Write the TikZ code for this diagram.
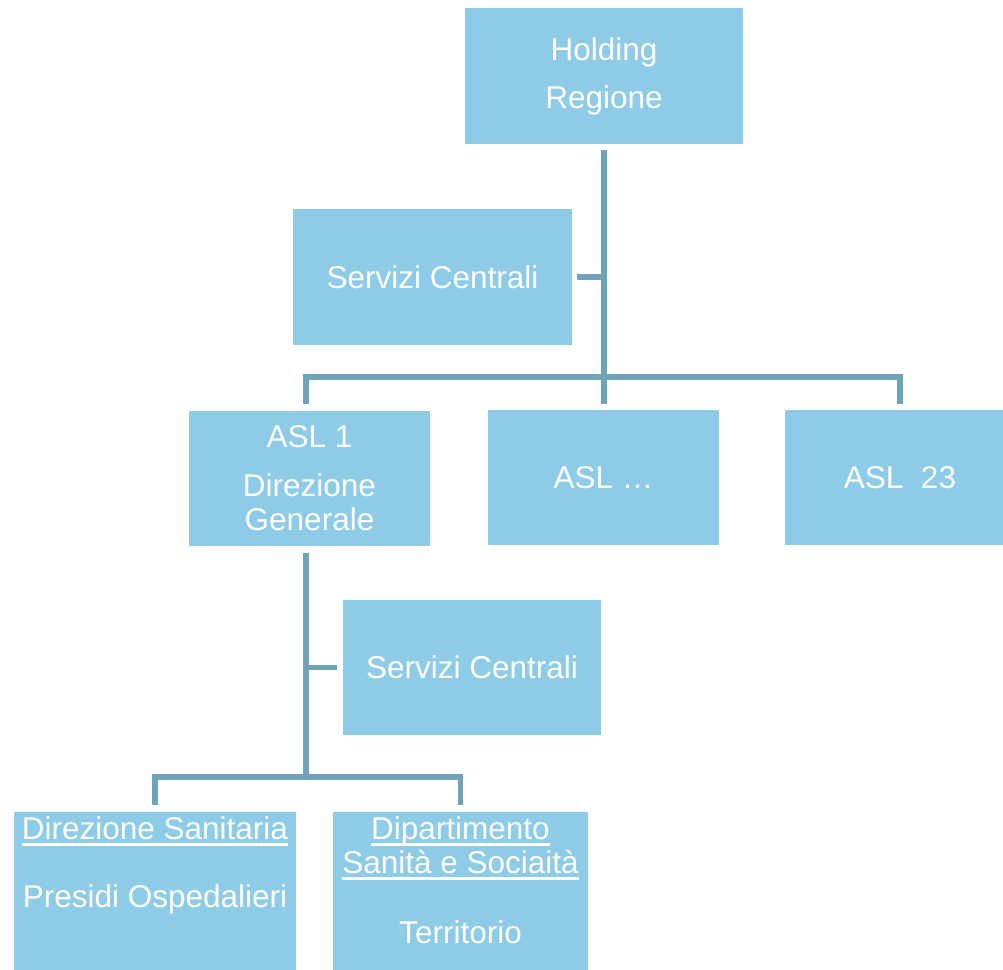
\documentclass[tikz,border=0pt]{standalone}
\usepackage{fontspec}
\setmainfont{Liberation Sans}
\usetikzlibrary{positioning}
\definecolor{boxblue}{RGB}{141,203,230}
\definecolor{linkblue}{RGB}{111,163,186}
\newcommand{\ulword}[1]{\setbox0\hbox{#1}\rlap{\rule[-6pt]{\wd0}{2.6pt}}\box0}
\tikzset{
 orgbox/.style={fill=boxblue,text=white,inner sep=0pt,align=center,
  font=\fontsize{31.5}{34}\selectfont},
 orgtext/.style={text=white,inner sep=0pt,align=center,
  font=\fontsize{31.5}{34}\selectfont},
 link/.style={draw=linkblue,line width=5.8pt}
}

\begin{document}
\begin{tikzpicture}[x=1pt,y=-1pt]
 \useasboundingbox (0,0) rectangle (1003,969);
 \node[orgbox,minimum width=278pt,minimum height=136pt] (holding) at (604,76) {Holding\\[14pt]Regione};
 \node[orgbox,minimum width=279pt,minimum height=136pt] (srv1) at (432.5,277) {Servizi Centrali};
 \node[orgbox,minimum width=241pt,minimum height=135pt] (asl1) at (309.5,478.5) {ASL 1\\[15pt]Direzione\\Generale};
 \node[orgbox,minimum width=231pt,minimum height=135pt] (asldots) at (603.5,477.5) {ASL \dots};
 \node[orgbox,minimum width=231pt,minimum height=135pt] (asl23) at (900,477.5) {ASL\ \ 23};
 \node[orgbox,minimum width=258pt,minimum height=135pt] (srv2) at (472,667.5) {Servizi Centrali};
 \node[orgbox,minimum width=282pt,minimum height=170pt] (dirsan) at (155,897) {};
 \node[orgbox,minimum width=255pt,minimum height=170pt] (dip) at (460.5,897) {};
 \node[orgtext,anchor=north] (dirsantext) at (155,816.5) {\ulword{Direzione Sanitaria}\\[34pt]Presidi Ospedalieri};
 \node[orgtext,anchor=north] (diptext) at (460.5,816.5) {\ulword{Dipartimento}\\\ulword{Sanità e Sociaità}\\[36pt]Territorio};

 \coordinate (bar1) at (604,377);
 \coordinate (bar2) at (306,777);

 \draw[link,shorten <=6pt,shorten >=6pt] (holding.south) -- (holding.south |- asldots.north);
 \draw[link,shorten <=5pt] (srv1.east) -- (srv1.east -| holding.south);
 \draw[link,shorten <=7pt,shorten >=6pt] ([xshift=-3.5pt]asl1.north) |- (bar1) -| (asl23.north);
 \draw[link,shorten <=7pt] ([xshift=-3.5pt]asl1.south) -- (bar2);
 \draw[link,shorten <=6pt] (srv2.west) -- (srv2.west -| bar2);
 \draw[link,shorten <=7pt,shorten >=7pt] (dirsan.north) |- (bar2) -| (dip.north);
\end{tikzpicture}
\end{document}
